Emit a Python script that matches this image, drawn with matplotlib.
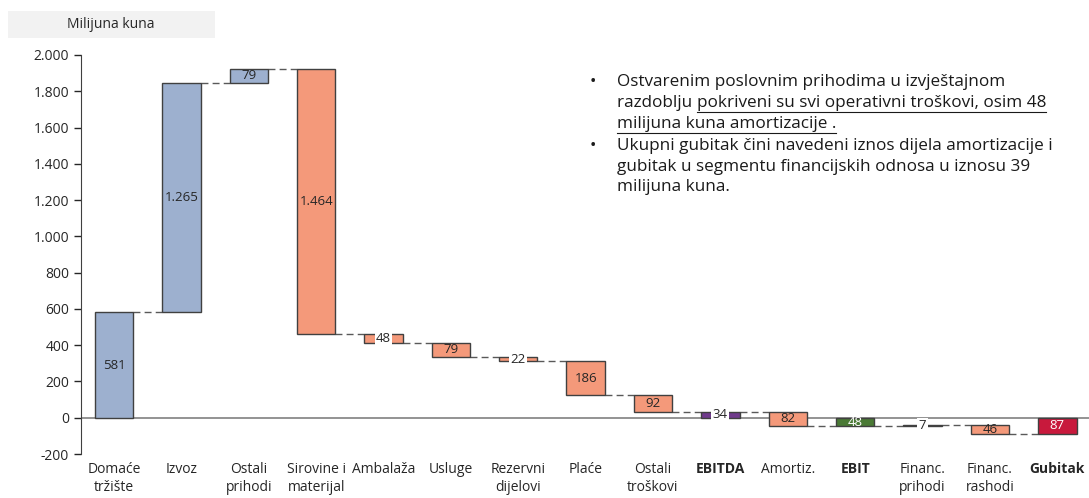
import numpy as np
import matplotlib
matplotlib.use("Agg")
import matplotlib.pyplot as plt
from matplotlib.ticker import FuncFormatter, MultipleLocator

plt.rcParams['font.family'] = ['Open Sans', 'DejaVu Sans']

# podaci (milijuna kuna)
categories = ['Domaće\ntržište', 'Izvoz', 'Ostali\nprihodi', 'Sirovine i\nmaterijal', 'Ambalaža',
              'Usluge', 'Rezervni\ndijelovi', 'Plaće', 'Ostali\ntroškovi', 'EBITDA', 'Amortiz.',
              'EBIT', 'Financ.\nprihodi', 'Financ.\nrashodi', 'Gubitak']
changes = [581, 1265, 79, -1464, -48, -79, -22, -186, -92, 0, -82, 0, 7, -46, 0]
is_total = [False, False, False, False, False, False, False, False, False, True, False,
            True, False, False, True]
bold_labels = ['EBITDA', 'EBIT', 'Gubitak']
boxed_labels = ['Ambalaža', 'Rezervni\ndijelovi', 'EBITDA', 'Financ.\nprihodi']

BLUE = '#9db0cf'
SALMON = '#f4997a'
PURPLE = '#703a8c'
GREEN = '#4a7a35'
RED = '#c8193c'
colors = [BLUE, BLUE, BLUE, SALMON, SALMON, SALMON, SALMON, SALMON, SALMON, PURPLE,
          SALMON, GREEN, GREEN, SALMON, RED]

fig = plt.figure(figsize=(10.89, 4.98), dpi=100)
ax = fig.add_axes([81 / 1089, 1 - 454 / 498, 1 - 81 / 1089, (454 - 55) / 498])

x = np.arange(len(categories))
width = 0.57
level = 0
starts, ends = [], []
for i, c in enumerate(changes):
    if is_total[i]:
        s, e = 0, level
    else:
        s, e = level, level + c
        level = e
    starts.append(s)
    ends.append(e)

bottoms = [min(s, e) for s, e in zip(starts, ends)]
heights = [abs(e - s) for s, e in zip(starts, ends)]
ax.bar(x, heights, width, bottom=bottoms, color=colors, edgecolor='#404040', linewidth=1.0, zorder=3)

# spojnice
for i in range(len(x) - 1):
    ax.plot([x[i] + width / 2, x[i + 1] - width / 2], [ends[i], ends[i]],
            color='#595959', linestyle=(0, (5, 3)), linewidth=1.0, zorder=2)

# oznake vrijednosti
for i in range(len(x)):
    val = heights[i]
    txt = f"{val:,}".replace(',', '.')
    mid = bottoms[i] + heights[i] / 2
    boxed = categories[i] in boxed_labels
    tc = 'white' if colors[i] in (GREEN, RED) and not boxed else '#262626'
    bbox = dict(facecolor='white', edgecolor='none', pad=1.0) if boxed else None
    ax.text(x[i], mid, txt, ha='center', va='center', fontsize=9.5, color=tc, bbox=bbox, zorder=4)

ax.axhline(0, color='#808080', linewidth=1.2, zorder=1)

ax.set_xlim(-0.49, 14.47)
ax.set_ylim(-200, 2000)
ax.yaxis.set_major_locator(MultipleLocator(200))
ax.yaxis.set_major_formatter(FuncFormatter(lambda v, p: f"{int(v):,}".replace(',', '.')))
ax.tick_params(axis='y', labelsize=10, colors='#262626', length=5, width=1, direction='out')
for sp in ['top', 'right', 'bottom']:
    ax.spines[sp].set_visible(False)
ax.spines['left'].set_color('#404040')
ax.set_xticks([])

for i, lab in enumerate(categories):
    ax.text(x[i], -245, lab, ha='center', va='top', fontsize=10, color='#262626',
            fontweight='bold' if lab in bold_labels else 'normal', linespacing=1.25)

# naslov jedinice
fig.patches.append(plt.Rectangle((8 / 1089, 1 - 38 / 498), 207 / 1089, 27 / 498,
                                 transform=fig.transFigure, facecolor='#f2f2f2', edgecolor='none'))
fig.text(111 / 1089, 1 - 25 / 498, 'Milijuna kuna', ha='center', va='center', fontsize=10, color='#262626')

# tekst s komentarom
fs = 12.3
tc = '#1a1a1a'
tx = 617 / 1089
lines_y = [82, 103, 124, 146, 167, 187]
fig.text(590 / 1089, 1 - 82 / 498, '•', fontsize=fs, va='center', color=tc)
fig.text(590 / 1089, 1 - 146 / 498, '•', fontsize=fs, va='center', color=tc)

fig.text(tx, 1 - lines_y[0] / 498, 'Ostvarenim poslovnim prihodima u izvještajnom', fontsize=fs, va='center', color=tc)
t1 = fig.text(tx, 1 - lines_y[1] / 498, 'razdoblju ', fontsize=fs, va='center', color=tc)
fig.canvas.draw()
r = fig.canvas.get_renderer()
bb = t1.get_window_extent(r)
x2 = bb.x1 / fig.bbox.width
t2 = fig.text(x2, 1 - lines_y[1] / 498, 'pokriveni su svi operativni troškovi, osim 48', fontsize=fs, va='center', color=tc)
t3 = fig.text(tx, 1 - lines_y[2] / 498, 'milijuna kuna amortizacije .', fontsize=fs, va='center', color=tc)
for t, ly in [(t2, lines_y[1]), (t3, lines_y[2])]:
    b = t.get_window_extent(r)
    yy = 1 - (ly + 9) / 498
    fig.add_artist(plt.Line2D([b.x0 / fig.bbox.width, b.x1 / fig.bbox.width], [yy, yy],
                              transform=fig.transFigure, color=tc, linewidth=0.8))
fig.text(tx, 1 - lines_y[3] / 498, 'Ukupni gubitak čini navedeni iznos dijela amortizacije i', fontsize=fs, va='center', color=tc)
fig.text(tx, 1 - lines_y[4] / 498, 'gubitak u segmentu financijskih odnosa u iznosu 39', fontsize=fs, va='center', color=tc)
fig.text(tx, 1 - lines_y[5] / 498, 'milijuna kuna.', fontsize=fs, va='center', color=tc)

fig.savefig('out.png', dpi=100)
